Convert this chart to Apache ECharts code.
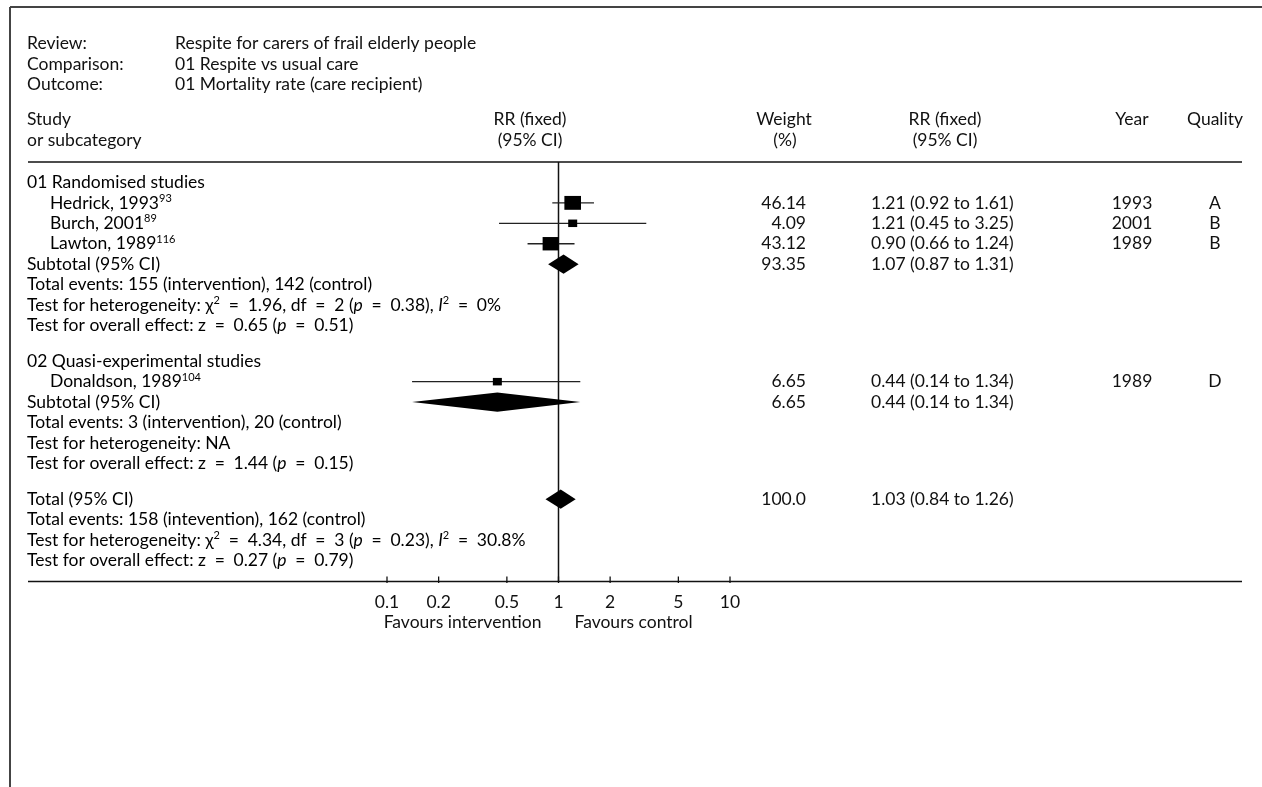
<!DOCTYPE html>
<html><head><meta charset="utf-8">
<script src="https://cdn.jsdelivr.net/npm/echarts@6/dist/echarts.min.js"></script>
<style>html,body{margin:0;padding:0;background:#fff}#c{width:1262px;height:787px}</style>
</head><body><div id="c"></div>
<script>
// ---------------- data ----------------
const groupNames = ['01 Randomised studies', '02 Quasi-experimental studies'];
const studyNames = ['Hedrick, 1993', 'Burch, 2001', 'Lawton, 1989', 'Donaldson, 1989'];
const studyRefs = ['93', '89', '116', '104'];
const studyGroup = [0, 0, 0, 1];
const studyRR = [1.21, 1.21, 0.90, 0.44];
const studyLow = [0.92, 0.45, 0.66, 0.14];
const studyHigh = [1.61, 3.25, 1.24, 1.34];
const studyWeight = [46.14, 4.09, 43.12, 6.65];
const studyYear = ['1993', '2001', '1989', '1989'];
const studyQuality = ['A', 'B', 'B', 'D'];

const poolLabels = ['Subtotal (95% CI)', 'Subtotal (95% CI)', 'Total (95% CI)'];
const poolRR = [1.07, 0.44, 1.03];
const poolLow = [0.87, 0.14, 0.84];
const poolHigh = [1.31, 1.34, 1.26];
const poolWeight = ['93.35', '6.65', '100.0'];

const eventsInt = [155, 3, 158];
const eventsCtl = [142, 20, 162];
const eventsWord = ['intervention', 'intervention', 'intevention'];
const hetChi2 = ['1.96', null, '4.34'];
const hetDf = ['2', null, '3'];
const hetP = ['0.38', null, '0.23'];
const hetI2 = ['0%', null, '30.8%'];
const effZ = ['0.65', '1.44', '0.27'];
const effP = ['0.51', '0.15', '0.79'];

const tickValues = [0.1, 0.2, 0.5, 1, 2, 5, 10];
const tickLabels = ['0.1', '0.2', '0.5', '1', '2', '5', '10'];

// ---------------- layout ----------------
const FONT = 'Lato';
const FS = 17.5;
const INK = '#111';
const SQ = 0.833; // vertical squash of marks
const X_LEFT = 27, X_INDENT = 50;
const X_WEIGHT_R = 806, X_CI_L = 871, X_YEAR_C = 1132, X_QUAL_C = 1215;
const LINE_END = 1242;
const GRID_TOP = 162, AXIS_Y = 581.5;
const EQ = '\u2002=\u2002';

const rich = {
  n: { fontFamily: FONT, fontSize: FS, color: INK, lineHeight: 20 },
  i: { fontFamily: FONT, fontSize: FS, fontStyle: 'italic', color: INK, lineHeight: 20 },
  sup: { fontFamily: FONT, fontSize: 11, color: INK, lineHeight: 11, verticalAlign: 'top' }
};

function fmtValue(v) { return v.toFixed(2); }
function ciText(rr, lo, hi) { return fmtValue(rr) + ' (' + fmtValue(lo) + ' to ' + fmtValue(hi) + ')'; }

const rows = [];
const studyRows = [], poolRows = [];
let pos = 1;
function statRows(k) {
  rows.push({ pos: pos++, left: '{n|Total events: ' + eventsInt[k] + ' (' + eventsWord[k] + '), ' + eventsCtl[k] + ' (control)}' });
  if (hetChi2[k] === null) {
    rows.push({ pos: pos++, left: '{n|Test for heterogeneity: NA}' });
  } else {
    rows.push({ pos: pos++, left: '{n|Test for heterogeneity: χ}{sup|2}{n|' + EQ + hetChi2[k] + ', df' + EQ + hetDf[k] + ' (}{i|p}{n|' + EQ + hetP[k] + '), }{i|I}{sup|2}{n|' + EQ + hetI2[k] + '}' });
  }
  rows.push({ pos: pos++, left: '{n|Test for overall effect: z' + EQ + effZ[k] + ' (}{i|p}{n|' + EQ + effP[k] + ')}' });
}
for (let g = 0; g < groupNames.length; g++) {
  rows.push({ pos: pos++, left: '{n|' + groupNames[g] + '}' });
  for (let s = 0; s < studyNames.length; s++) {
    if (studyGroup[s] !== g) continue;
    studyRows.push([studyRR[s], pos, studyLow[s], studyHigh[s], studyWeight[s]]);
    rows.push({ pos: pos++, left: '{n|' + studyNames[s] + '}{sup|' + studyRefs[s] + '}', indent: true,
      weight: studyWeight[s].toFixed(2), ci: ciText(studyRR[s], studyLow[s], studyHigh[s]),
      year: studyYear[s], qual: studyQuality[s] });
  }
  poolRows.push([poolRR[g], pos, poolLow[g], poolHigh[g]]);
  rows.push({ pos: pos++, left: '{n|' + poolLabels[g] + '}', weight: poolWeight[g], ci: ciText(poolRR[g], poolLow[g], poolHigh[g]) });
  statRows(g);
  pos += 0.75;
}
poolRows.push([poolRR[2], pos, poolLow[2], poolHigh[2]]);
rows.push({ pos: pos++, left: '{n|' + poolLabels[2] + '}', weight: poolWeight[2], ci: ciText(poolRR[2], poolLow[2], poolHigh[2]) });
statRows(2);
const Y_MAX = pos + 0.03;

const chart = echarts.init(document.getElementById('c'), null, { renderer: 'canvas' });

function txt(x, y, text, align) {
  return { type: 'text', x: x, y: y, style: { text: text, fontFamily: FONT, fontSize: FS, fill: INK, align: align || 'left', verticalAlign: 'middle' } };
}
const graphics = [
  { type: 'line', shape: { x1: 10, y1: 7, x2: 1262, y2: 7 }, style: { stroke: '#444', lineWidth: 2 } },
  { type: 'line', shape: { x1: 10, y1: 7, x2: 10, y2: 787 }, style: { stroke: '#444', lineWidth: 2 } },
  { type: 'line', shape: { x1: 28, y1: GRID_TOP, x2: LINE_END, y2: GRID_TOP }, style: { stroke: INK, lineWidth: 1.5 } },
  { type: 'line', shape: { x1: 28, y1: AXIS_Y, x2: LINE_END, y2: AXIS_Y }, style: { stroke: INK, lineWidth: 1.5 } },
  txt(X_LEFT, 43.5, 'Review:'), txt(175, 43.5, 'Respite for carers of frail elderly people'),
  txt(X_LEFT, 64, 'Comparison:'), txt(175, 64, '01 Respite vs usual care'),
  txt(X_LEFT, 84.5, 'Outcome:'), txt(175, 84.5, '01 Mortality rate (care recipient)'),
  txt(X_LEFT, 119, 'Study'), txt(X_LEFT, 140, 'or subcategory'),
  txt(530, 119, 'RR (fixed)', 'center'), txt(530, 140, '(95% CI)', 'center'),
  txt(784, 119, 'Weight', 'center'), txt(785, 140, '(%)', 'center'),
  txt(945, 119, 'RR (fixed)', 'center'), txt(945, 140, '(95% CI)', 'center'),
  txt(X_YEAR_C, 119, 'Year', 'center'), txt(X_QUAL_C, 119, 'Quality', 'center')
];

const option = {
  animation: false,
  backgroundColor: '#fff',
  grid: { left: 387, right: 1262 - 730, top: GRID_TOP, bottom: 787 - AXIS_Y },
  xAxis: { type: 'log', logBase: 10, min: 0.1, max: 10, show: false },
  yAxis: { type: 'value', inverse: true, min: 0, max: Y_MAX, show: false },
  graphic: graphics,
  series: [
    { // line of no effect
      type: 'custom', clip: false, silent: true, data: [[1, 0]],
      renderItem: function (params, api) {
        const top = api.coord([api.value(0), 0]);
        const bot = api.coord([api.value(0), Y_MAX]);
        return { type: 'line', shape: { x1: top[0], y1: top[1], x2: bot[0], y2: bot[1] }, style: { stroke: INK, lineWidth: 1.5 } };
      }
    },
    { // studies
      type: 'custom', clip: false, silent: true, data: studyRows,
      renderItem: function (params, api) {
        const c = api.coord([api.value(0), api.value(1)]);
        const lo = api.coord([api.value(2), api.value(1)]);
        const hi = api.coord([api.value(3), api.value(1)]);
        const s = Math.max(9, 2.45 * Math.sqrt(api.value(4)));
        const h = s * SQ;
        return { type: 'group', children: [
          { type: 'line', shape: { x1: lo[0], y1: c[1], x2: hi[0], y2: c[1] }, style: { stroke: '#222', lineWidth: 1.3 } },
          { type: 'rect', shape: { x: c[0] - s / 2, y: c[1] - h / 2, width: s, height: h }, style: { fill: '#000' } }
        ] };
      }
    },
    { // pooled diamonds
      type: 'custom', clip: false, silent: true, data: poolRows,
      renderItem: function (params, api) {
        const c = api.coord([api.value(0), api.value(1)]);
        const lo = api.coord([api.value(2), api.value(1)]);
        const hi = api.coord([api.value(3), api.value(1)]);
        const h = 11.5 * SQ;
        return { type: 'polygon', shape: { points: [[lo[0], c[1]], [c[0], c[1] - h], [hi[0], c[1]], [c[0], c[1] + h]] }, style: { fill: '#000' } };
      }
    },
    { // axis ticks + labels
      type: 'custom', clip: false, silent: true, data: tickValues.map(function (v) { return [v, Y_MAX]; }),
      renderItem: function (params, api) {
        const p = api.coord([api.value(0), api.value(1)]);
        return { type: 'group', children: [
          { type: 'line', shape: { x1: p[0], y1: p[1] - 5, x2: p[0], y2: p[1] + 1.5 }, style: { stroke: INK, lineWidth: 1.3 } },
          { type: 'text', x: p[0], y: p[1] + 21, style: { text: tickLabels[params.dataIndex], fontFamily: FONT, fontSize: FS, fill: INK, align: 'center', verticalAlign: 'middle' } }
        ] };
      }
    },
    { // favours labels
      type: 'custom', clip: false, silent: true, data: [[1, Y_MAX]],
      renderItem: function (params, api) {
        const p = api.coord([api.value(0), api.value(1)]);
        return { type: 'group', children: [
          { type: 'text', x: p[0] - 17, y: p[1] + 41, style: { text: 'Favours intervention', fontFamily: FONT, fontSize: FS, fill: INK, align: 'right', verticalAlign: 'middle' } },
          { type: 'text', x: p[0] + 16, y: p[1] + 41, style: { text: 'Favours control', fontFamily: FONT, fontSize: FS, fill: INK, align: 'left', verticalAlign: 'middle' } }
        ] };
      }
    },
    { // table text rows
      type: 'custom', clip: false, silent: true, data: rows.map(function (r) { return [1, r.pos]; }),
      renderItem: function (params, api) {
        const r = rows[params.dataIndex];
        const y = api.coord([1, api.value(1)])[1];
        const ch = [
          { type: 'text', x: r.indent ? X_INDENT : X_LEFT, y: y, style: { text: r.left, rich: rich, align: 'left', verticalAlign: 'middle' } }
        ];
        if (r.weight) ch.push({ type: 'text', x: X_WEIGHT_R, y: y, style: { text: r.weight, fontFamily: FONT, fontSize: FS, fill: INK, align: 'right', verticalAlign: 'middle' } });
        if (r.ci) ch.push({ type: 'text', x: X_CI_L, y: y, style: { text: r.ci, fontFamily: FONT, fontSize: FS, fill: INK, align: 'left', verticalAlign: 'middle' } });
        if (r.year) ch.push({ type: 'text', x: X_YEAR_C, y: y, style: { text: r.year, fontFamily: FONT, fontSize: FS, fill: INK, align: 'center', verticalAlign: 'middle' } });
        if (r.qual) ch.push({ type: 'text', x: X_QUAL_C, y: y, style: { text: r.qual, fontFamily: FONT, fontSize: FS, fill: INK, align: 'center', verticalAlign: 'middle' } });
        return { type: 'group', children: ch };
      }
    }
  ]
};
chart.setOption(option);
</script>
</body></html>
